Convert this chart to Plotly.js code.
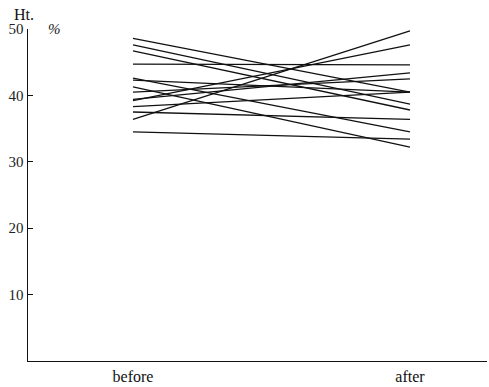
<!DOCTYPE html>
<html>
<head>
<meta charset="utf-8">
<script src="https://cdn.plot.ly/plotly-3.0.1.min.js"></script>
<style>html,body{margin:0;padding:0;background:#fff}#chart{width:489px;height:387px}</style>
</head>
<body>
<div id="chart"></div>
<script>
// Ht. (%) of each subject, before and after
var categories = ["before", "after"];
var beforeValues = [48.6, 47.6, 46.7, 44.7, 42.6, 42.3, 41.3, 40.5, 39.4, 39.2, 38.3, 37.5, 36.4, 34.5];
var afterValues  = [40.5, 38.7, 37.8, 44.6, 34.5, 40.5, 32.2, 42.5, 43.4, 47.6, 40.5, 36.4, 49.7, 33.4];
var yTickValues = [10, 20, 30, 40, 50];

var traces = beforeValues.map(function (b, i) {
  return {
    x: [0, 1],
    y: [b, afterValues[i]],
    type: "scatter",
    mode: "lines",
    line: {color: "#111", width: 1.3},
    hoverinfo: "skip",
    showlegend: false
  };
});

var serif = "Times New Roman";

var layout = {
  width: 489,
  height: 387,
  margin: {l: 28, r: 2, t: 29, b: 26},
  paper_bgcolor: "#fff",
  plot_bgcolor: "#fff",
  showlegend: false,
  font: {family: serif, color: "#111"},
  xaxis: {
    range: [-0.379, 1.278],
    tickvals: [0, 1],
    ticktext: categories,
    ticks: "",
    showgrid: false,
    zeroline: false,
    showline: true,
    linecolor: "#111",
    linewidth: 1.3,
    tickfont: {family: serif, size: 16, color: "#111"}
  },
  yaxis: {
    range: [0, 50],
    tickvals: yTickValues,
    ticktext: yTickValues.map(String),
    ticks: "inside",
    ticklen: 5,
    tickcolor: "#111",
    showgrid: false,
    zeroline: false,
    showline: true,
    linecolor: "#111",
    linewidth: 1.5,
    tickfont: {family: serif, size: 15, color: "#222"}
  },
  annotations: [
    {text: "Ht.", xref: "paper", yref: "paper", x: -0.035, y: 1.045, xanchor: "left", yanchor: "middle",
     showarrow: false, font: {family: serif, size: 16, color: "#111"}},
    {text: "<i>%</i>", xref: "paper", yref: "paper", x: 0.04, y: 1.0, xanchor: "left", yanchor: "middle",
     showarrow: false, font: {family: serif, size: 15, color: "#222"}}
  ]
};

Plotly.newPlot("chart", traces, layout, {staticPlot: true, displayModeBar: false});
</script>
</body>
</html>
